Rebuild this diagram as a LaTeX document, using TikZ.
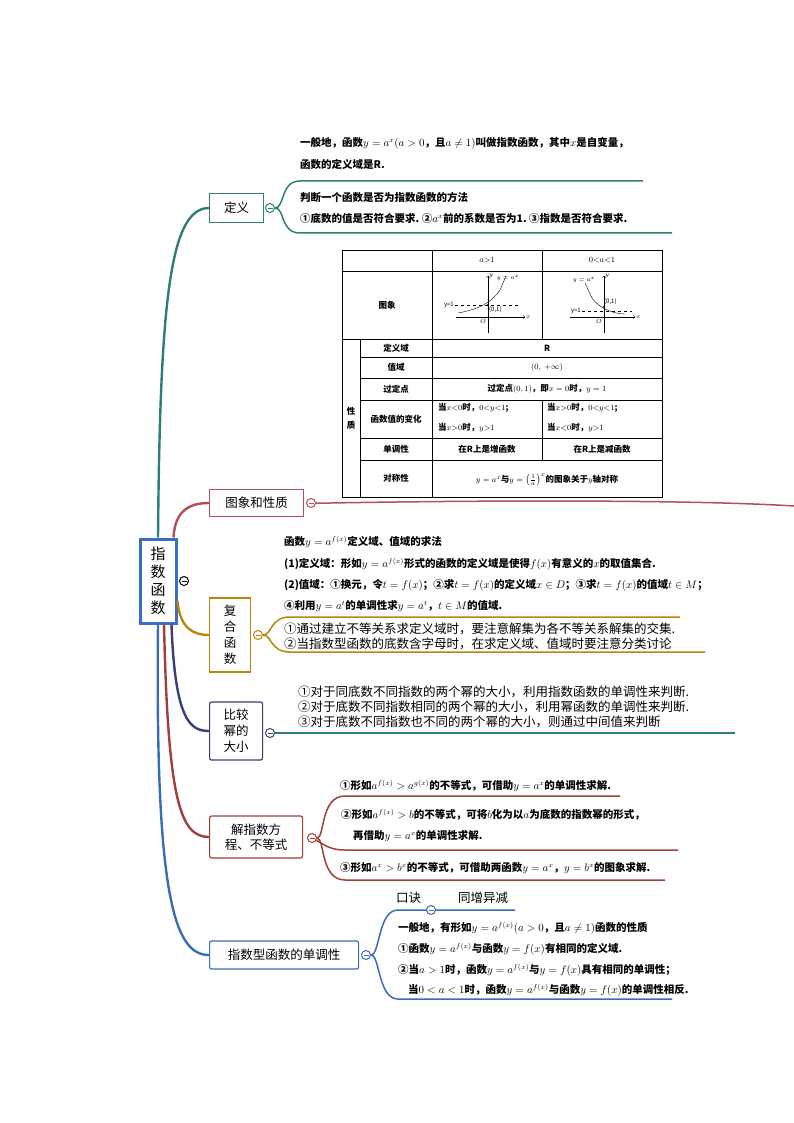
\documentclass[tikz,border=0pt]{standalone}
\usepackage{fontspec}
\setmainfont{Noto Sans CJK SC}
\usetikzlibrary{positioning}
\definecolor{cTeal}{HTML}{2E7D78}
\definecolor{cRose}{HTML}{B0505A}
\definecolor{cGold}{HTML}{B8860B}
\definecolor{cNavy}{HTML}{3A3F7A}
\definecolor{cRed}{HTML}{A0403A}
\definecolor{cBlue}{HTML}{3B6DB3}
\definecolor{cRoot}{HTML}{3A6FC0}
\tikzset{
  box/.style={draw, line width=1.2pt, fill=white, inner sep=3pt, font=\fontsize{12.5}{16}\selectfont, align=center},
  txt/.style={anchor=west, inner sep=0pt, font=\fontsize{10.5}{12}\selectfont\bfseries},
  big/.style={anchor=west, inner sep=0pt, font=\fontsize{12.5}{14}\selectfont},
  cell/.style={inner sep=0pt, font=\fontsize{8.5}{10}\selectfont\bfseries, align=left},
  fold/.style={draw, circle, line width=1pt, fill=white, inner sep=0pt, minimum size=9pt,
    path picture={\draw[line width=.9pt] ([xshift=-2.5pt]path picture bounding box.center) -- ([xshift=2.5pt]path picture bounding box.center);}},
  branch/.style={line width=2.4pt},
  leaf/.style={line width=1.5pt}
}
\begin{document}
\begin{tikzpicture}[x=1pt,y=-1pt]
\useasboundingbox (0,0) rectangle (794,1123);

% root
\node[draw=cRoot, line width=3pt, fill=white, minimum width=36pt, minimum height=84pt, font=\fontsize{15}{18}\selectfont, align=center] (root) at (158,581) {指\\数\\函\\数};
\node[fold, draw=black] (rootfold) at (184,581) {};

% children boxes
\node[box, draw=cTeal, anchor=west, minimum width=54pt, minimum height=29pt] (def) at (209,208) {定义};
\node[box, draw=cRose, anchor=west, minimum width=94pt, minimum height=27pt] (img) at (209,503) {图象和性质};
\node[box, draw=cGold, anchor=west, minimum width=41pt, minimum height=74pt] (comp) at (209,635) {复\\合\\函\\数};
\node[box, draw=cNavy, anchor=west, rounded corners=2pt, minimum width=53pt, minimum height=58pt] (cmp) at (209,731) {比较\\幂的\\大小};
\node[box, draw=cRed, anchor=west, rounded corners=2pt, minimum width=93pt, minimum height=42pt, font=\fontsize{12.5}{15}\selectfont] (solve) at (209,837) {解指数方\\程、不等式};
\node[box, draw=cBlue, anchor=west, rounded corners=2pt, minimum width=149pt, minimum height=28pt] (mono) at (209,955) {指数型函数的单调性};

% branches from root
\draw[branch, cTeal] (root.north) .. controls (160,300) and (170,208) .. (def.west);
\draw[branch, cRose] ([xshift=-4pt]root.north east) .. controls (175,510) and (190,503) .. (img.west);
\draw[branch, cGold] ([yshift=-20pt]root.east) .. controls (180,630) and (195,635) .. (comp.west);
\draw[branch, cNavy] ([xshift=-6pt]root.south east) .. controls (175,720) and (190,731) .. (cmp.west);
\draw[branch, cRed] ([xshift=6pt]root.south) .. controls (168,800) and (180,837) .. (solve.west);
\draw[branch, cBlue] (root.south) .. controls (155,900) and (175,955) .. (mono.west);

% definition
\node[fold, draw=cTeal] (deffold) at (270,208) {};
\draw[leaf, cTeal] (deffold) .. controls (285,208) and (280,181) .. (300,181) -- (643,181);
\draw[leaf, cTeal] (deffold) .. controls (285,208) and (280,233) .. (300,233) -- (672,233);
\node[txt] (d1) at (300,143) {一般地，函数$y=a^x(a>0$，且$a\neq1)$叫做指数函数，其中$x$是自变量，};
\node[txt] (d2) at (300,164) {函数的定义域是$\mathbf{R}$.};
\node[txt] (d3) at (300,197) {判断一个函数是否为指数函数的方法};
\node[txt] (d4) at (300,218) {①底数的值是否符合要求.\ ②$a^x$前的系数是否为1.\ ③指数是否符合要求.};

% table
\draw[line width=.8pt] (342,250) rectangle (662,497);
\foreach \y in {271,339} \draw[line width=.6pt] (342,\y) -- (662,\y);
\foreach \y in {357,378,400,438,460} \draw[line width=.6pt] (360,\y) -- (662,\y);
\draw[line width=.6pt] (360,339) -- (360,497);
\draw[line width=.6pt] (432,250) -- (432,497);
\draw[line width=.6pt] (542,250) -- (542,339);
\draw[line width=.6pt] (542,400) -- (542,460);
\node[cell] (h1) at (487,260) {$a{>}1$};
\node[cell] (h2) at (602,260) {$0{<}a{<}1$};
\node[cell] (r0) at (387,305) {图象};
\node[cell] (rx) at (351,418) {性\\[4pt]质};
\node[cell] (r1) at (396,348) {定义域};
\node[cell] (r2) at (396,367) {值域};
\node[cell] (r3) at (396,389) {过定点};
\node[cell] (r4) at (396,419) {函数值的变化};
\node[cell] (r5) at (396,449) {单调性};
\node[cell] (r6) at (396,478) {对称性};
\node[cell] (v1) at (547,348) {R};
\node[cell] (v2) at (547,367) {$(0,\ +\infty)$};
\node[cell] (v3) at (547,389) {过定点$(0,1)$，即$x=0$时，$y=1$};
\node[cell, anchor=west] (v4a) at (438,408) {当$x{<}0$时，$0{<}y{<}1$;};
\node[cell, anchor=west] (v4b) at (438,428) {当$x{>}0$时，$y{>}1$};
\node[cell, anchor=west] (v4c) at (547,408) {当$x{>}0$时，$0{<}y{<}1$;};
\node[cell, anchor=west] (v4d) at (547,428) {当$x{<}0$时，$y{>}1$};
\node[cell] (v5a) at (487,449) {在R上是增函数};
\node[cell] (v5b) at (602,449) {在R上是减函数};
\node[cell] (v6) at (547,480) {$y=a^x$与$y=\left(\frac{1}{a}\right)^{x}$的图象关于$y$轴对称};
% small graphs
\begin{scope}[font=\fontsize{6}{7}\selectfont, line width=.4pt]
  \draw[->] (456,317) -- (525,317) node[right, inner sep=1pt] (gx1) {$x$};
  \draw[->] (488,333) -- (488,276) node[right, inner sep=1pt] (gy1) {$y$};
  \draw[dashed] (455,305) -- (520,305);
  \draw (458,313) .. controls (480,309) and (492,302) .. (500,290) -- (506,276);
  \fill (488,305) circle (1.2pt);
  \node[inner sep=1pt, anchor=east] (gl1) at (455,305) {y=1};
  \node[inner sep=1pt, anchor=north west] (gp1) at (488,305) {(0,1)};
  \node[inner sep=1pt, anchor=north east] (go1) at (487,318) {$O$};
  \node[inner sep=1pt] (gf1) at (508,278) {$y=a^x$};
  \draw[->] (570,317) -- (635,317) node[right, inner sep=1pt] (gx2) {$x$};
  \draw[->] (604,333) -- (604,276) node[right, inner sep=1pt] (gy2) {$y$};
  \draw[dashed] (582,311) -- (632,311);
  \draw (585,283) -- (592,298) .. controls (598,307) and (612,314) .. (625,314);
  \fill (604,307) circle (1.2pt);
  \node[inner sep=1pt, anchor=east] (gl2) at (582,311) {y=1};
  \node[inner sep=1pt, anchor=south west] (gp2) at (603,306) {(0,1)};
  \node[inner sep=1pt, anchor=north east] (go2) at (603,318) {$O$};
  \node[inner sep=1pt] (gf2) at (584,280) {$y=a^x$};
\end{scope}

% image & properties
\node[fold, draw=cRose] (imgfold) at (311,503) {};
\draw[leaf, cRose] (imgfold) -- (330,503) .. controls (500,500) and (700,500) .. (794,506);

% composite
\node[fold, draw=cGold] (compfold) at (258,635) {};
\draw[leaf, cGold] (compfold) .. controls (272,635) and (270,617) .. (290,617) -- (680,617);
\draw[leaf, cGold] (compfold) .. controls (272,635) and (270,652) .. (290,652) -- (705,652);
\node[txt] (c1) at (284,542) {函数$y=a^{f(x)}$定义域、值域的求法};
\node[txt] (c2) at (284,564) {(1)定义域：形如$y=a^{f(x)}$形式的函数的定义域是使得$f(x)$有意义的$x$的取值集合.};
\node[txt] (c3) at (284,585) {(2)值域：①换元，令$t=f(x)$；②求$t=f(x)$的定义域$x\in D$；③求$t=f(x)$的值域$t\in M$；};
\node[txt] (c4) at (284,606) {④利用$y=a^t$的单调性求$y=a^t$，$t\in M$的值域.};
\node[big] (c5) at (284,629) {①通过建立不等关系求定义域时，要注意解集为各不等关系解集的交集.};
\node[big] (c6) at (284,644) {②当指数型函数的底数含字母时，在求定义域、值域时要注意分类讨论};

% compare
\node[fold, draw=cNavy] (cmpfold) at (270,733) {};
\draw[leaf, cTeal] (cmpfold) -- (735,733);
\node[big] (k1) at (298,692) {①对于同底数不同指数的两个幂的大小，利用指数函数的单调性来判断.};
\node[big] (k2) at (298,707) {②对于底数不同指数相同的两个幂的大小，利用幂函数的单调性来判断.};
\node[big] (k3) at (298,722) {③对于底数不同指数也不同的两个幂的大小，则通过中间值来判断};

% solve
\node[fold, draw=cRed] (solvefold) at (312,838) {};
\draw[leaf, cRed] (solvefold) .. controls (325,838) and (320,796) .. (345,796) -- (620,796);
\draw[leaf, cRed] (solvefold) .. controls (325,845) and (330,850) .. (345,850) -- (678,850);
\draw[leaf, cRed] (solvefold) .. controls (325,838) and (320,880) .. (345,880) -- (665,880);
\node[txt] (s1) at (340,786) {①形如$a^{f(x)}>a^{g(x)}$的不等式，可借助$y=a^x$的单调性求解.};
\node[txt] (s2) at (341,815) {②形如$a^{f(x)}>b$的不等式，可将$b$化为以$a$为底数的指数幂的形式，};
\node[txt] (s3) at (353,836) {再借助$y=a^x$的单调性求解.};
\node[txt] (s4) at (340,868) {③形如$a^x>b^x$的不等式，可借助两函数$y=a^x$，$y=b^x$的图象求解.};

% monotonicity
\node[fold, draw=cBlue] (monofold) at (366,955) {};
\draw[leaf, cBlue] (monofold) .. controls (380,955) and (378,910) .. (398,910) -- (515,910);
\draw[leaf, cBlue] (monofold) .. controls (380,955) and (378,999) .. (398,999) -- (672,999);
\node[fold, draw=cBlue] (kjfold) at (431,910) {};
\node[big] (kj) at (396,898) {口诀};
\node[big] (kjv) at (458,898) {同增异减};
\node[txt] (m1) at (398,928) {一般地，有形如$y=a^{f(x)}(a>0$，且$a\neq1)$函数的性质};
\node[txt] (m2) at (398,949) {①函数$y=a^{f(x)}$与函数$y=f(x)$有相同的定义域.};
\node[txt] (m3) at (398,970) {②当$a>1$时，函数$y=a^{f(x)}$与$y=f(x)$具有相同的单调性；};
\node[txt] (m4) at (408,990) {当$0<a<1$时，函数$y=a^{f(x)}$与函数$y=f(x)$的单调性相反.};
\end{tikzpicture}
\end{document}
